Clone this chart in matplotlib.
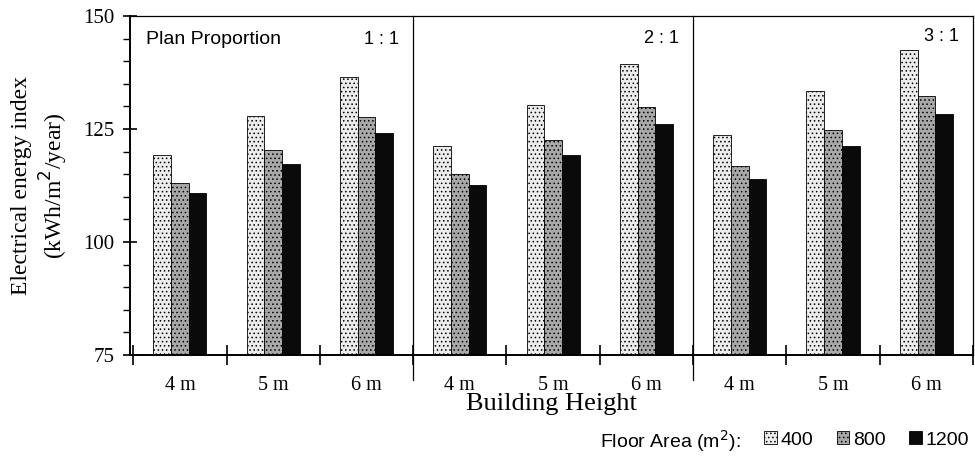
import numpy as np
import matplotlib.pyplot as plt
from matplotlib.patches import Patch
from matplotlib.ticker import MultipleLocator

# Electrical energy index by building height, for three plan proportions
proportions = ["1 : 1", "2 : 1", "3 : 1"]
heights = ["4 m", "5 m", "6 m"]
floor_areas = ["400", "800", "1200"]

# values [proportion][height]
energy_400 = [[119.2, 127.9, 136.5],
              [121.3, 130.4, 139.3],
              [123.7, 133.4, 142.5]]
energy_800 = [[113.1, 120.4, 127.7],
              [115.0, 122.5, 129.9],
              [116.9, 124.7, 132.4]]
energy_1200 = [[110.8, 117.3, 124.1],
               [112.6, 119.2, 126.2],
               [114.0, 121.3, 128.3]]

SERIF = "Liberation Serif"
SANS = "Liberation Sans"

plt.rcParams["hatch.linewidth"] = 0.6

fig = plt.figure(figsize=(9.75, 4.57), dpi=100)
ax = fig.add_axes([0.1333, 0.2232, 0.8647, 0.7418])

x = np.arange(len(proportions) * len(heights))
w = 0.19
styles = [
    dict(color="#ececec", hatch="....", label=floor_areas[0]),
    dict(color="#a8a8a8", hatch="....", label=floor_areas[1]),
    dict(color="#0a0a0a", hatch=None, label=floor_areas[2]),
]
series = [energy_400, energy_800, energy_1200]
for k, (vals, st) in enumerate(zip(series, styles)):
    flat = np.array(vals).ravel()
    ax.bar(x + (k - 1) * w, flat - 75, w, bottom=75, facecolor=st["color"],
           edgecolor="black", linewidth=0.6, hatch=st["hatch"])

ax.set_xlim(-0.535, len(x) - 0.5)
ax.set_ylim(75, 150)
ax.yaxis.set_major_locator(MultipleLocator(25))
ax.yaxis.set_minor_locator(MultipleLocator(5))
ax.tick_params(axis="y", which="major", direction="inout", length=10, width=1.2,
               labelsize=15, pad=6)
ax.tick_params(axis="y", which="minor", direction="out", length=5, width=1.0)
for lab in ax.get_yticklabels():
    lab.set_fontfamily(SERIF)

# group boundaries as ticks, labels centred under each group
ax.set_xticks(np.arange(len(x) + 1) - 0.5)
ax.set_xticklabels([])
ax.tick_params(axis="x", which="major", direction="inout", length=14, width=1.2)
ax.set_xticks(x, minor=True)
ax.set_xticklabels(heights * len(proportions), minor=True, fontfamily=SERIF,
                   fontsize=14.5)
ax.tick_params(axis="x", which="minor", length=0, pad=15)

for s in ["left", "bottom"]:
    ax.spines[s].set_linewidth(1.4)
for s in ["top", "right"]:
    ax.spines[s].set_linewidth(0.9)

# panel separators running below the axis
for b in [2.5, 5.5]:
    ax.plot([b, b], [75 - 5.5, 150], color="black", lw=0.9, clip_on=False)

ax.text(0.019, 0.93, "Plan Proportion", transform=ax.transAxes,
        fontfamily=SANS, fontsize=14, va="center")
for i, p in enumerate(proportions):
    ax.text(3 * i + 2.35, 144.7 + 0.4 * i, p, fontfamily=SANS, fontsize=13,
            ha="right", va="center")

ax.set_xlabel("Building Height", fontfamily=SERIF, fontsize=19)
ax.xaxis.set_label_coords(0.5, -0.112)
ax.set_ylabel("Electrical energy index\n(kWh/m$^2$/year)", fontfamily=SERIF,
              fontsize=17, labelpad=10, linespacing=1.2)

fig.text(0.615, 0.035, "Floor Area (m$^2$):", fontfamily=SANS, fontsize=14,
         va="center")
handles = [Patch(facecolor=st["color"], edgecolor="black", linewidth=0.6,
                 hatch=st["hatch"], label=st["label"]) for st in styles]
fig.legend(handles=handles, loc="lower right", bbox_to_anchor=(1.012, -0.02),
           ncol=3, frameon=False, handlelength=0.65, handleheight=0.65,
           handletextpad=0.2, columnspacing=1.2,
           prop=dict(family=SANS, size=14))

fig.savefig("out.png", dpi=100)
